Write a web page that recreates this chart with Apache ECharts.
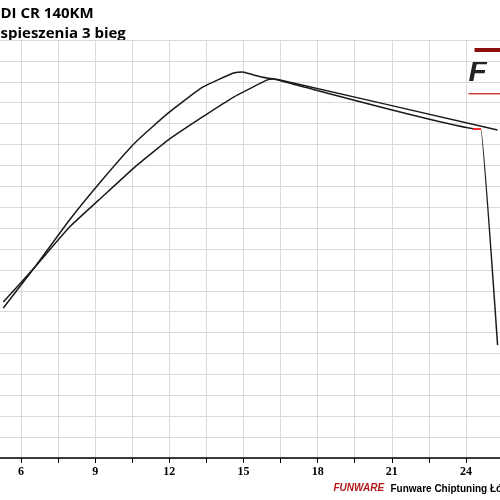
<!DOCTYPE html>
<html><head><meta charset="utf-8">
<script src="https://cdn.jsdelivr.net/npm/echarts@6/dist/echarts.min.js"></script>
<style>html,body{margin:0;padding:0;background:#fff;overflow:hidden;width:500px;height:500px;position:relative}#c{position:absolute;left:-19.5px;top:0;width:525px;height:500px}</style>
</head><body><div id="c"></div>
<script>
const xTicks = [6, 9, 12, 15, 18, 21, 24];
const seriesA_x = [5.28, 6.56, 7.96, 9.28, 10.6, 11.96, 13.28, 13.96, 14.6, 14.96, 15.4, 15.96, 16.48, 25.28];
const seriesA_y = [7.18, 9.14, 11.39, 13.30, 15.07, 16.51, 17.70, 18.09, 18.42, 18.47, 18.33, 18.18, 18.09, 15.69];
const seriesB_x = [5.28, 6.56, 7.96, 9.28, 10.6, 11.96, 13.28, 14.6, 15.96, 16.2, 16.68, 24.48, 24.6, 25.28];
const seriesB_y = [7.46, 9.14, 11.05, 12.49, 13.92, 15.22, 16.27, 17.27, 18.09, 18.13, 17.99, 15.74, 15.74, 5.41];
const titleLines = ["DI CR 140KM", "spieszenia 3 bieg"];
const footer = "Funware Chiptuning Łód";

const A = seriesA_x.map((x, i) => [x, seriesA_y[i]]);
const B = seriesB_x.map((x, i) => [x, seriesB_y[i]]);
const S = 19.5;
const chart = echarts.init(document.getElementById('c'));
chart.setOption({
  animation: false,
  grid: {left: 0, right: 0, top: 40, bottom: 42},
  xAxis: {type: 'value', min: 4.5, max: 25.5, interval: 1.5,
    axisLine: {lineStyle: {color: '#000', width: 1.5}},
    axisTick: {show: true, length: 5, lineStyle: {color: '#000'}},
    axisLabel: {color: '#000', fontWeight: 'bold', fontSize: 12, fontFamily: 'Liberation Serif', margin: 8,
      formatter: v => xTicks.includes(Math.round(v*100)/100) ? String(v) : ''},
    splitLine: {lineStyle: {color: '#d9d9d9'}}},
  yAxis: {type: 'value', min: 0, max: 20, interval: 1, axisLabel: {show: false},
    axisLine: {show: false}, axisTick: {show: false}, splitLine: {lineStyle: {color: '#d9d9d9'}}},
  series: [
    {type: 'line', data: A, symbol: 'none', smooth: 0.15, lineStyle: {color: '#1a1a1a', width: 1.5}},
    {type: 'line', data: B, symbol: 'none', smooth: 0.1, lineStyle: {color: '#1a1a1a', width: 1.5},
      markPoint: {symbol: 'rect', symbolSize: [8, 2], itemStyle: {color: '#ff3030'}, data: [{coord: [24.45, 15.74]}], label: {show: false}}}
  ],
  graphic: [
    {type: 'text', left: S, top: 6, style: {text: titleLines[0], font: 'bold 15px "Open Sans"', fill: '#000'}},
    {type: 'text', left: S, top: 26, style: {text: titleLines[1], font: 'bold 15px "Open Sans"', fill: '#000'}},
    {type: 'text', left: 468 + S, top: 58, style: {text: 'F', font: 'italic bold 30px "Liberation Sans"', fill: '#222'}},
    {type: 'rect', shape: {x: 474 + S, y: 48, width: 30, height: 4}, style: {fill: '#8b1010'}},
    {type: 'rect', shape: {x: 468 + S, y: 93, width: 32, height: 1.5}, style: {fill: '#d04040'}},
    {type: 'text', left: 333 + S, top: 483, style: {text: 'FUNWARE', font: 'italic bold 10px "Liberation Sans"', fill: '#b01818'}},
    {type: 'text', left: 390 + S, top: 484, style: {text: footer, font: 'bold 10px "Liberation Sans"', fill: '#000'}}
  ]
});
</script></body></html>
